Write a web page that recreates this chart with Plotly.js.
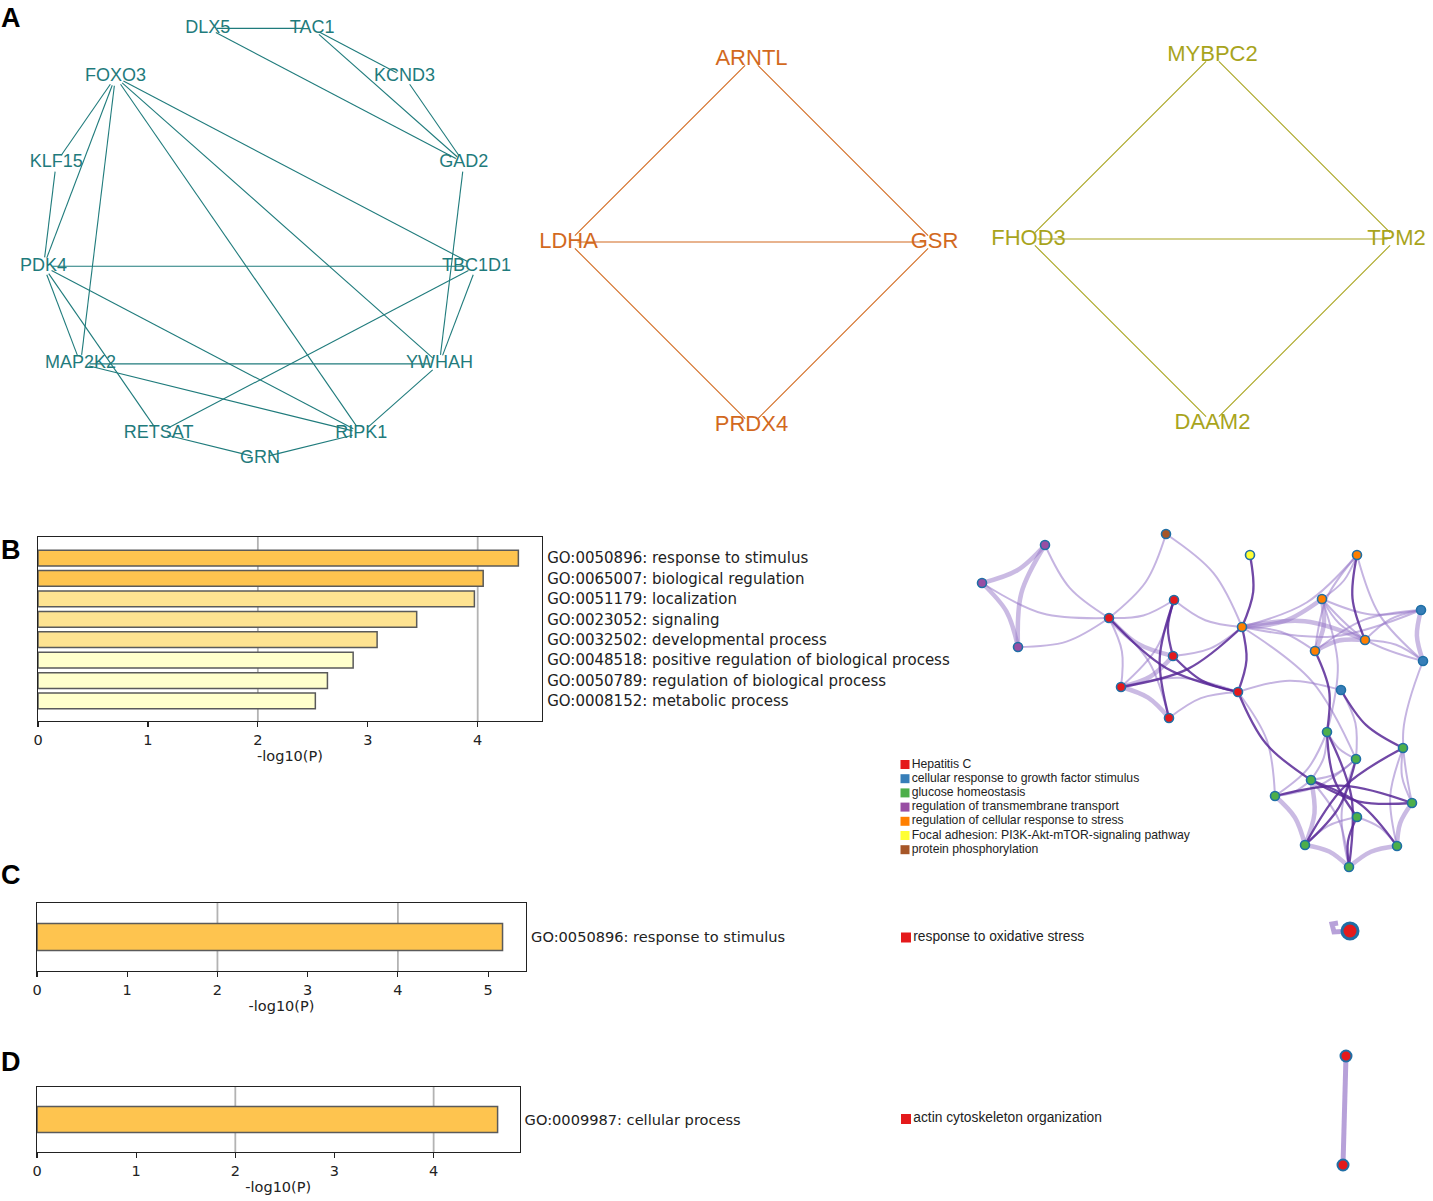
<!DOCTYPE html>
<html><head><meta charset="utf-8">
<script src="https://cdn.plot.ly/plotly-3.0.1.min.js"></script>
<style>html,body{margin:0;padding:0;background:#fff}#chart{width:1433px;height:1201px}</style>
</head><body><div id="chart"></div>
<script>
// ================= DATA =================
// Panel A: protein-protein interaction networks (node order = circular layout order)
const netA1Nodes = ["GRN","RIPK1","YWHAH","TBC1D1","GAD2","KCND3","TAC1","DLX5","FOXO3","KLF15","PDK4","MAP2K2","RETSAT"];
const netA1Edges = [["DLX5","TAC1"],["DLX5","GAD2"],["TAC1","KCND3"],["TAC1","GAD2"],["KCND3","GAD2"],["GAD2","YWHAH"],
  ["TBC1D1","YWHAH"],["TBC1D1","PDK4"],["TBC1D1","RETSAT"],["TBC1D1","FOXO3"],["FOXO3","YWHAH"],["FOXO3","RIPK1"],
  ["FOXO3","KLF15"],["FOXO3","PDK4"],["FOXO3","MAP2K2"],["KLF15","PDK4"],["PDK4","MAP2K2"],["PDK4","RETSAT"],
  ["PDK4","RIPK1"],["MAP2K2","YWHAH"],["MAP2K2","RIPK1"],["YWHAH","RIPK1"],["RIPK1","GRN"],["GRN","RETSAT"]];
const netA2Nodes = ["PRDX4","GSR","ARNTL","LDHA"];
const netA2Edges = [["ARNTL","LDHA"],["ARNTL","GSR"],["LDHA","GSR"],["LDHA","PRDX4"],["GSR","PRDX4"]];
const netA3Nodes = ["DAAM2","TPM2","MYBPC2","FHOD3"];
const netA3Edges = [["MYBPC2","FHOD3"],["MYBPC2","TPM2"],["FHOD3","TPM2"],["FHOD3","DAAM2"],["TPM2","DAAM2"]];

// Panels B, C, D: enrichment bars
const bTerms = ["GO:0050896: response to stimulus","GO:0065007: biological regulation","GO:0051179: localization",
  "GO:0023052: signaling","GO:0032502: developmental process","GO:0048518: positive regulation of biological process",
  "GO:0050789: regulation of biological process","GO:0008152: metabolic process"];
const bValues = [4.37, 4.05, 3.97, 3.445, 3.085, 2.867, 2.633, 2.523];
const cTerms = ["GO:0050896: response to stimulus"];
const cValues = [5.16];
const dTerms = ["GO:0009987: cellular process"];
const dValues = [4.645];
const bTicks = [0,1,2,3,4];
const cTicks = [0,1,2,3,4,5];
const dTicks = [0,1,2,3,4];
const gridVals = [2,4];
const axisTitleText = "-log10(P)";

// Panel B: enriched-term cluster network
const clusterNames = ["Hepatitis C","cellular response to growth factor stimulus","glucose homeostasis",
  "regulation of transmembrane transport","regulation of cellular response to stress",
  "Focal adhesion: PI3K-Akt-mTOR-signaling pathway","protein phosphorylation"];
const netBNodes = ["P1","P2","P3","N4","N5","R1","R2","R3","R4","R5","R6","O1","O2","O3","O4","O5","B1","B2","B3",
  "G1","G2","G3","G4","G5","G6","G7","G8","G9","G10"];
const netBCluster = [3,3,3,6,5,0,0,0,0,0,0,4,4,4,4,4,1,1,1,2,2,2,2,2,2,2,2,2,2];
// [from, to, similarity class: 1 weak, 2 weak-strong, 3 strong]
const netBEdges = [["P1","P2",2],["P1","P3",2],["P2","P3",2],["P1","R1",1],["P2","R1",1],["P3","R1",1],
  ["N4","R1",1],["N4","O1",1],["N5","O1",3],
  ["R1","R2",1],["R1","R3",2],["R1","R4",1],["R1","R5",1],["R1","R6",3],
  ["R2","R3",3],["R2","R5",3],["R2","O1",1],["R2","R4",1],
  ["R3","R4",2],["R3","R6",3],["R3","O1",1],["R4","R5",2],["R4","O1",3],["R4","R6",1],["R5","R6",1],
  ["R6","O1",3],["R6","B3",1],["R6","G4",3],["R6","G5",1],
  ["O1","O2",1],["O1","O3",2],["O1","O4",2],["O1","O5",1],["O1","B1",1],["O1","G3",1],
  ["O2","O3",1],["O2","O4",3],["O2","O5",1],["O2","B2",1],
  ["O3","O4",1],["O3","O5",2],["O3","B1",1],["O3","B2",1],["O3","G1",1],
  ["O4","O5",2],["O4","B1",1],["O4","B2",1],["O5","B1",1],["O5","G1",3],
  ["B1","B2",2],["B3","G2",3],["B3","G3",1],["B2","G6",1],
  ["G1","G7",3],["G1","G10",3],["G1","G3",1],["G1","G4",1],["G1","G5",1],
  ["G2","G8",3],["G2","G6",1],["G2","G9",1],["G3","G8",3],["G3","G4",1],["G3","G5",1],
  ["G4","G6",3],["G4","G9",3],["G4","G8",2],["G4","G10",1],["G5","G6",3],["G5","G8",2],["G5","G4",1],
  ["G6","G9",2],["G7","G10",3],["G7","G8",1],["G7","G9",1],["G8","G10",2],["G9","G10",2],["G3","G10",1]];
const cClusterNames = ["response to oxidative stress"];
const dClusterNames = ["actin cytoskeleton organization"];
const dNetEdges = [["D1","D2"]];

// ================= LAYOUT / STYLE =================
const W = 1433, H = 1201;
const FONT_A = "Liberation Sans, Arial, sans-serif";
const FONT_MPL = "DejaVu Sans, sans-serif";
const cfgA = {
  a1: {cx: 260, cy: 240, r: 218, font: 18, color: "#1f7b7c", gap: 9},
  a2: {cx: 751.5, cy: 242, r: 183, font: 22, color: "#d2691e", gap: 9},
  a3: {cx: 1212.5, cy: 239, r: 184, font: 22, color: "#a8a41c", gap: 9}
};
const netBPos = {P1:[1045,545],P2:[982,583],P3:[1018,647],N4:[1166,534],N5:[1250,555],
  R1:[1109,618],R2:[1174,600],R3:[1173,656],R4:[1121,687],R5:[1169,718],R6:[1238,692],
  O1:[1242,627],O2:[1357,555],O3:[1322,599],O4:[1365,640],O5:[1315,651],
  B1:[1421,610],B2:[1423,661],B3:[1341,690],
  G1:[1327,732],G2:[1403,748],G3:[1356,759],G4:[1311,780],G5:[1275,796],G6:[1412,803],
  G7:[1357,817],G8:[1305,845],G9:[1397,846],G10:[1349,867]};
const clusterColors = ["#e41a1c","#377eb8","#4daf4a","#984ea3","#ff7f00","#ffff33","#a65628"];
const edgeStyle = {1:{color:"rgba(150,118,200,0.55)", width:2, shape:"spline"},
  2:{color:"rgba(150,118,200,0.5)", width:4.5, shape:"spline"},
  3:{color:"rgba(88,40,150,0.85)", width:2.3, shape:"spline"}};
const bowFactor = 0.1;
const nodeOutline = "#1f6fa6";
const bBarColors = ["#fec44f","#fec44f","#fee391","#fee391","#fee391","#ffffcc","#ffffcc","#ffffcc"];
const cBarColors = ["#fec44f"];
const dBarColors = ["#fec44f"];
const legendB = {x: 905, y0: 764.5, dy: 14.2, size: 9, font: 12.2};
const cNodePos = [1350, 931];
const dNodePos = {D1:[1346,1056], D2:[1343,1165]};

const px = v => v / W;
const py = v => 1 - v / H;

function circlePos(nodes, cfg) {
  const n = nodes.length, pos = {};
  nodes.forEach((id, i) => {
    const th = (90 - i * 360 / n) * Math.PI / 180;
    pos[id] = [cfg.cx + cfg.r * Math.cos(th), cfg.cy + cfg.r * Math.sin(th)];
  });
  return pos;
}
function shortenSeg(p, q, d) {
  const dx = q[0] - p[0], dy = q[1] - p[1], L = Math.hypot(dx, dy);
  const ux = dx / L, uy = dy / L;
  return [[p[0] + ux * d, p[1] + uy * d], [q[0] - ux * d, q[1] - uy * d]];
}
const base = {xaxis: "x", yaxis: "y", hoverinfo: "skip", showlegend: false, type: "scatter"};

function networkA(nodes, edges, cfg) {
  const pos = circlePos(nodes, cfg);
  const ex = [], ey = [];
  edges.forEach(([a, b]) => {
    const s = shortenSeg(pos[a], pos[b], cfg.gap);
    ex.push(s[0][0], s[1][0], null); ey.push(s[0][1], s[1][1], null);
  });
  return [
    Object.assign({}, base, {mode: "lines", x: ex, y: ey, line: {color: cfg.color, width: 1.1}}),
    Object.assign({}, base, {mode: "text", x: nodes.map(id => pos[id][0]), y: nodes.map(id => pos[id][1]),
      text: nodes, textposition: "middle center",
      textfont: {family: FONT_A, size: cfg.font, color: cfg.color}})
  ];
}

const traces = [];
traces.push(...networkA(netA1Nodes, netA1Edges, cfgA.a1));
traces.push(...networkA(netA2Nodes, netA2Edges, cfgA.a2));
traces.push(...networkA(netA3Nodes, netA3Edges, cfgA.a3));

// cluster centroids (for bundled-looking curved edges)
const centroids = clusterColors.map((_, c) => {
  const ids = netBNodes.filter((id, i) => netBCluster[i] === c);
  if (!ids.length) return null;
  return [ids.reduce((s, id) => s + netBPos[id][0], 0) / ids.length, ids.reduce((s, id) => s + netBPos[id][1], 0) / ids.length];
});
const clusterOf = id => netBCluster[netBNodes.indexOf(id)];
function bendPoint(a, b) {
  const p = netBPos[a], q = netBPos[b];
  const ca = centroids[clusterOf(a)], cb = centroids[clusterOf(b)];
  const c = [(ca[0] + cb[0]) / 2, (ca[1] + cb[1]) / 2];
  const m = [(p[0] + q[0]) / 2, (p[1] + q[1]) / 2];
  const dx = q[0] - p[0], dy = q[1] - p[1], L = Math.hypot(dx, dy);
  const n = [-dy / L, dx / L];
  const dot = (c[0] - m[0]) * n[0] + (c[1] - m[1]) * n[1];
  const s = dot >= 0 ? 1 : -1;
  return [m[0] + n[0] * s * bowFactor * L, m[1] + n[1] * s * bowFactor * L];
}
// Network B edges (grouped by class)
[1, 2, 3].forEach(cls => {
  const ex = [], ey = [];
  netBEdges.filter(e => e[2] === cls).forEach(([a, b]) => {
    const k = bendPoint(a, b);
    ex.push(netBPos[a][0], k[0], netBPos[b][0], null); ey.push(netBPos[a][1], k[1], netBPos[b][1], null);
  });
  traces.push(Object.assign({}, base, {mode: "lines", x: ex, y: ey, line: edgeStyle[cls]}));
});
traces.push(Object.assign({}, base, {mode: "markers",
  x: netBNodes.map(id => netBPos[id][0]), y: netBNodes.map(id => netBPos[id][1]),
  marker: {size: 9, color: netBCluster.map(c => clusterColors[c]), line: {color: nodeOutline, width: 1.6}}}));
// Legend B
traces.push(Object.assign({}, base, {mode: "markers+text",
  x: clusterNames.map(() => legendB.x), y: clusterNames.map((_, i) => legendB.y0 + i * legendB.dy),
  text: clusterNames, textposition: "middle right",
  textfont: {family: FONT_A, size: legendB.font, color: "#222"},
  marker: {symbol: "square", size: legendB.size, color: clusterColors.slice(0, clusterNames.length)}}));
// Legend C, D
traces.push(Object.assign({}, base, {mode: "markers+text", x: [906], y: [937.5], text: cClusterNames,
  textposition: "middle right", textfont: {family: FONT_A, size: 13.8, color: "#222"},
  marker: {symbol: "square", size: 10, color: clusterColors[0]}}));
traces.push(Object.assign({}, base, {mode: "markers+text", x: [906], y: [1119], text: dClusterNames,
  textposition: "middle right", textfont: {family: FONT_A, size: 13.8, color: "#222"},
  marker: {symbol: "square", size: 10, color: clusterColors[0]}}));
// Network C: single node with self-loop
traces.push(Object.assign({}, base, {mode: "lines",
  x: [cNodePos[0], cNodePos[0] - 16, cNodePos[0] - 18, cNodePos[0] - 12],
  y: [cNodePos[1], cNodePos[1] + 1, cNodePos[1] - 7, cNodePos[1] - 8],
  line: {color: "rgba(170,145,210,0.85)", width: 5}}));
traces.push(Object.assign({}, base, {mode: "markers", x: [cNodePos[0]], y: [cNodePos[1]],
  marker: {size: 16, color: clusterColors[0], line: {color: nodeOutline, width: 3}}}));
// Network D
{
  const ex = [], ey = [];
  dNetEdges.forEach(([a, b]) => { ex.push(dNodePos[a][0], dNodePos[b][0], null); ey.push(dNodePos[a][1], dNodePos[b][1], null); });
  traces.push(Object.assign({}, base, {mode: "lines", x: ex, y: ey, line: {color: "rgba(170,145,210,0.85)", width: 5}}));
  const ids = Object.keys(dNodePos);
  traces.push(Object.assign({}, base, {mode: "markers", x: ids.map(k => dNodePos[k][0]), y: ids.map(k => dNodePos[k][1]),
    marker: {size: 11, color: clusterColors[0], line: {color: nodeOutline, width: 2}}}));
}

// Bar charts
function barTrace(vals, terms, colors, ax, width) {
  return {type: "bar", orientation: "h", x: vals, y: terms, xaxis: "x" + ax, yaxis: "y" + ax,
    width: width, marker: {color: colors, line: {color: "#5a5a5a", width: 1.5}},
    hoverinfo: "skip", showlegend: false};
}
traces.push(barTrace(bValues, bTerms, bBarColors, 2, 0.77));
traces.push(barTrace(cValues, cTerms, cBarColors, 3, 0.8));
traces.push(barTrace(dValues, dTerms, dBarColors, 4, 0.8));

function xAx(x0, x1, yaxisId, range, ticks) {
  return {domain: [px(x0), px(x1)], anchor: yaxisId, range: range, tickvals: ticks, ticktext: ticks.map(String),
    ticks: "outside", ticklen: 5, tickwidth: 1.2, tickcolor: "#222", showline: true, mirror: true,
    linecolor: "#222", linewidth: 1.2, showgrid: false, zeroline: false, fixedrange: true,
    tickfont: {family: FONT_MPL, size: 14.5, color: "#222"},
    title: {text: axisTitleText, font: {family: FONT_MPL, size: 14.5, color: "#222"}, standoff: 4}};
}
function yAx(y0, y1, xaxisId, terms, range, fs) {
  return {domain: [py(y1), py(y0)], anchor: xaxisId, side: "right", type: "category",
    categoryorder: "array", categoryarray: terms, range: range, ticks: "", showline: true, mirror: true,
    linecolor: "#222", linewidth: 1.2, showgrid: false, zeroline: false, fixedrange: true,
    ticklabelstandoff: 1, tickfont: {family: FONT_MPL, size: fs, color: "#222"}};
}

const shapes = [];
[["x2", "y2"], ["x3", "y3"], ["x4", "y4"]].forEach(([xa, ya]) => {
  gridVals.forEach(g => shapes.push({type: "line", xref: xa, yref: ya + " domain", x0: g, x1: g, y0: 0, y1: 1,
    line: {color: "#b3b3b3", width: 1.8}, layer: "below"}));
});

const panelLetters = [["A", 11, 18], ["B", 11, 550], ["C", 11, 875], ["D", 11, 1062]];
const annotations = panelLetters.map(([t, x, y]) => ({text: "<b>" + t + "</b>", x: x, y: y, xref: "x", yref: "y",
  showarrow: false, font: {family: FONT_A, size: 27, color: "#000"}, xanchor: "center", yanchor: "middle"}));

const layout = {
  width: W, height: H, margin: {l: 0, r: 0, t: 0, b: 0}, paper_bgcolor: "#fff", plot_bgcolor: "rgba(0,0,0,0)",
  showlegend: false,
  xaxis: {domain: [0, 1], range: [0, W], visible: false, fixedrange: true},
  yaxis: {domain: [0, 1], range: [H, 0], visible: false, fixedrange: true},
  xaxis2: xAx(38, 542, "y2", [0, 4.585], bTicks),
  yaxis2: yAx(537, 721, "x2", bTerms, [7.98, -1.03], 15),
  xaxis3: xAx(37, 526, "y3", [0, 5.42], cTicks),
  yaxis3: yAx(903, 971, "x3", cTerms, [-1, 1], 14.6),
  xaxis4: xAx(37, 519.5, "y4", [0, 4.866], dTicks),
  yaxis4: yAx(1087, 1152, "x4", dTerms, [-1, 1], 14.6),
  shapes: shapes, annotations: annotations
};
Plotly.newPlot("chart", traces, layout, {displayModeBar: false, staticPlot: true});
</script></body></html>
